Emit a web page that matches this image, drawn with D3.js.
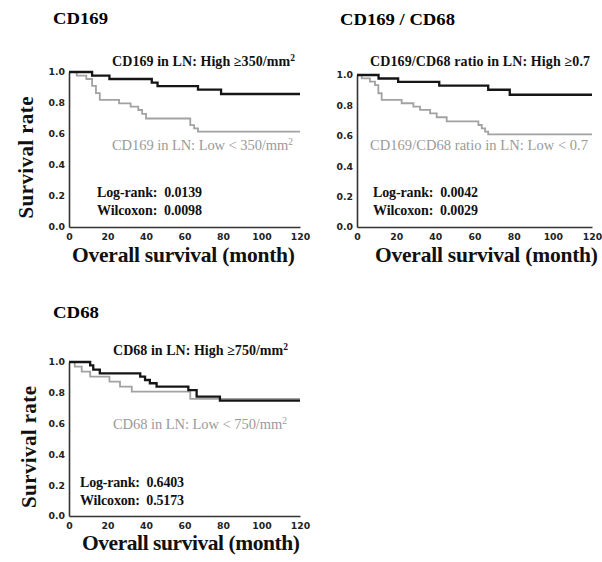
<!DOCTYPE html>
<html><head><meta charset="utf-8">
<script src="https://cdn.jsdelivr.net/npm/d3@7"></script>
<style>body{margin:0;background:#fff}</style>
</head><body>
<svg id="c" width="602" height="562"></svg>
<script>
// ---- data ----
const xTicks = [0, 20, 40, 60, 80, 100, 120];
const yTicks = [0.0, 0.2, 0.4, 0.6, 0.8, 1.0];

const cd169HighTime = [0, 12, 21, 43, 46, 67, 79, 120];
const cd169HighSurv = [1, 0.977, 0.955, 0.932, 0.909, 0.886, 0.858, 0.858];
const cd169LowTime  = [0, 4, 9, 12, 14, 16, 26, 32, 36, 38, 40, 63, 65, 67, 120];
const cd169LowSurv  = [1, 0.977, 0.955, 0.91, 0.864, 0.82, 0.798, 0.776, 0.755, 0.73, 0.70, 0.657, 0.636, 0.615, 0.615];

const ratioHighTime = [0, 11, 21, 42, 67, 78, 120];
const ratioHighSurv = [1, 0.977, 0.955, 0.93, 0.903, 0.87, 0.87];
const ratioLowTime  = [0, 2.4, 6.6, 9.2, 10.9, 12.6, 22.8, 28.8, 32.2, 37.3, 40.7, 45.8, 62, 63.7, 65.4, 67, 120];
const ratioLowSurv  = [1, 0.978, 0.956, 0.934, 0.88, 0.836, 0.814, 0.792, 0.77, 0.748, 0.722, 0.695, 0.671, 0.649, 0.627, 0.61, 0.61];

const cd68HighTime = [0, 11, 12.6, 16, 37, 39.5, 42, 45.5, 62, 66.3, 78.4, 120];
const cd68HighSurv = [1, 0.978, 0.95, 0.926, 0.905, 0.883, 0.862, 0.84, 0.818, 0.775, 0.749, 0.749];
const cd68LowTime  = [0, 3, 6.6, 11, 21, 26.5, 32.6, 63, 120];
const cd68LowSurv  = [1, 0.97, 0.937, 0.905, 0.872, 0.84, 0.807, 0.76, 0.76];

const panelTitles = ["CD169", "CD169 / CD68", "CD68"];
const highLabels = ["CD169 in LN: High \u2265350/mm", "CD169/CD68 ratio in LN: High \u22650.7", "CD68 in LN: High \u2265750/mm"];
const lowLabels  = ["CD169 in LN: Low < 350/mm", "CD169/CD68 ratio in LN: Low < 0.7", "CD68 in LN: Low < 750/mm"];
const logRank  = ["0.0139", "0.0042", "0.6403"];
const wilcoxon = ["0.0098", "0.0029", "0.5173"];

// ---- layout ----
const panels = [
  {x0:69, x1:300, y0:227, y1:72, title:[53,24,55], hi:[112,66,183,true], lo:[112,150,181,true], stats:[97,197,105], yTitle:33, xTitle:[72,262,223],
   high:[cd169HighTime, cd169HighSurv], low:[cd169LowTime, cd169LowSurv]},
  {x0:357, x1:592, y0:227, y1:75, title:[340,25,115], hi:[370,66,220,false], lo:[370,150,218,false], stats:[373,197,105], yTitle:null, xTitle:[375,262,223],
   high:[ratioHighTime, ratioHighSurv], low:[ratioLowTime, ratioLowSurv]},
  {x0:69, x1:300, y0:516, y1:362, title:[53,318,46], hi:[113,355,175,true], lo:[113,429,174,true], stats:[80,487,104], yTitle:36, xTitle:[82,550,218],
   high:[cd68HighTime, cd68HighSurv], low:[cd68LowTime, cd68LowSurv]}
];

const svg = d3.select("#c");
const serif = "'Liberation Serif','Times New Roman',serif";

panels.forEach((p, i) => {
  const x = d3.scaleLinear().domain([0, 120]).range([p.x0, p.x1]);
  const y = d3.scaleLinear().domain([0, 1]).range([p.y0, p.y1]);
  const g = svg.append("g");

  // title
  g.append("text").attr("x", p.title[0]).attr("y", p.title[1]).attr("font-family", serif)
    .attr("font-weight", "bold").attr("font-size", 17).attr("textLength", p.title[2]).attr("lengthAdjust", "spacingAndGlyphs")
    .text(panelTitles[i]);

  // axes
  const ax = g.append("g").attr("transform", `translate(0,${p.y0})`)
    .call(d3.axisBottom(x).tickValues(xTicks).tickSize(0).tickPadding(6).tickFormat(d3.format("d")));
  const ay = g.append("g").attr("transform", `translate(${p.x0},0)`)
    .call(d3.axisLeft(y).tickValues(yTicks).tickSize(0).tickPadding(4).tickFormat(d3.format(".1f")));
  [ax, ay].forEach(a => {
    a.select(".domain").attr("stroke", "#333").attr("stroke-width", 1.6);
    a.selectAll("text").attr("font-family", "'DejaVu Sans',Verdana,sans-serif").attr("font-weight", "bold")
      .attr("font-size", 9.3).attr("fill", "#222");
  });

  // curves
  const line = d3.line().x(d => x(d[0])).y(d => y(d[1])).curve(d3.curveStepAfter);
  const lowPts = p.low[0].map((t, k) => [t, p.low[1][k]]);
  const highPts = p.high[0].map((t, k) => [t, p.high[1][k]]);
  g.append("path").attr("d", line(lowPts)).attr("fill", "none").attr("stroke", "#a2a2a2").attr("stroke-width", 1.8);
  g.append("path").attr("d", line(highPts)).attr("fill", "none").attr("stroke", "#151515").attr("stroke-width", 2.3);

  // labels
  const hi = g.append("text").attr("x", p.hi[0]).attr("y", p.hi[1]).attr("font-family", serif)
    .attr("font-weight", "bold").attr("font-size", 14).attr("fill", "#111")
    .attr("textLength", p.hi[2]).attr("lengthAdjust", "spacing");
  hi.append("tspan").text(highLabels[i]);
  if (p.hi[3]) hi.append("tspan").attr("dy", -5).attr("font-size", 9.5).text("2");

  const lo = g.append("text").attr("x", p.lo[0]).attr("y", p.lo[1]).attr("font-family", serif)
    .attr("font-size", 14.5).attr("fill", "#9a9a9a")
    .attr("textLength", p.lo[2]).attr("lengthAdjust", "spacing");
  lo.append("tspan").text(lowLabels[i]);
  if (p.lo[3]) lo.append("tspan").attr("dy", -5).attr("font-size", 9.5).text("2");

  g.append("text").attr("x", p.stats[0]).attr("y", p.stats[1]).attr("font-family", serif)
    .attr("font-weight", "bold").attr("font-size", 14).attr("fill", "#111")
    .attr("textLength", p.stats[2]).attr("lengthAdjust", "spacing")
    .attr("xml:space", "preserve").text("Log-rank:  " + logRank[i]);
  g.append("text").attr("x", p.stats[0]).attr("y", p.stats[1] + 18).attr("font-family", serif)
    .attr("font-weight", "bold").attr("font-size", 14).attr("fill", "#111")
    .attr("textLength", p.stats[2]).attr("lengthAdjust", "spacing")
    .attr("xml:space", "preserve").text("Wilcoxon:  " + wilcoxon[i]);

  // axis titles
  g.append("text").attr("x", p.xTitle[0]).attr("y", p.xTitle[1]).attr("font-family", serif)
    .attr("font-weight", "bold").attr("font-size", 21.5).attr("fill", "#111")
    .attr("textLength", p.xTitle[2]).attr("lengthAdjust", "spacing")
    .text("Overall survival (month)");
  if (p.yTitle !== null) {
    g.append("text").attr("transform", `translate(${p.yTitle},${(p.y0 + p.y1) / 2 + 8}) rotate(-90)`)
      .attr("text-anchor", "middle").attr("font-family", serif).attr("font-weight", "bold")
      .attr("font-size", 21).attr("fill", "#111").attr("textLength", 122).attr("lengthAdjust", "spacing")
      .text("Survival rate");
  }
});
</script>
</body></html>
